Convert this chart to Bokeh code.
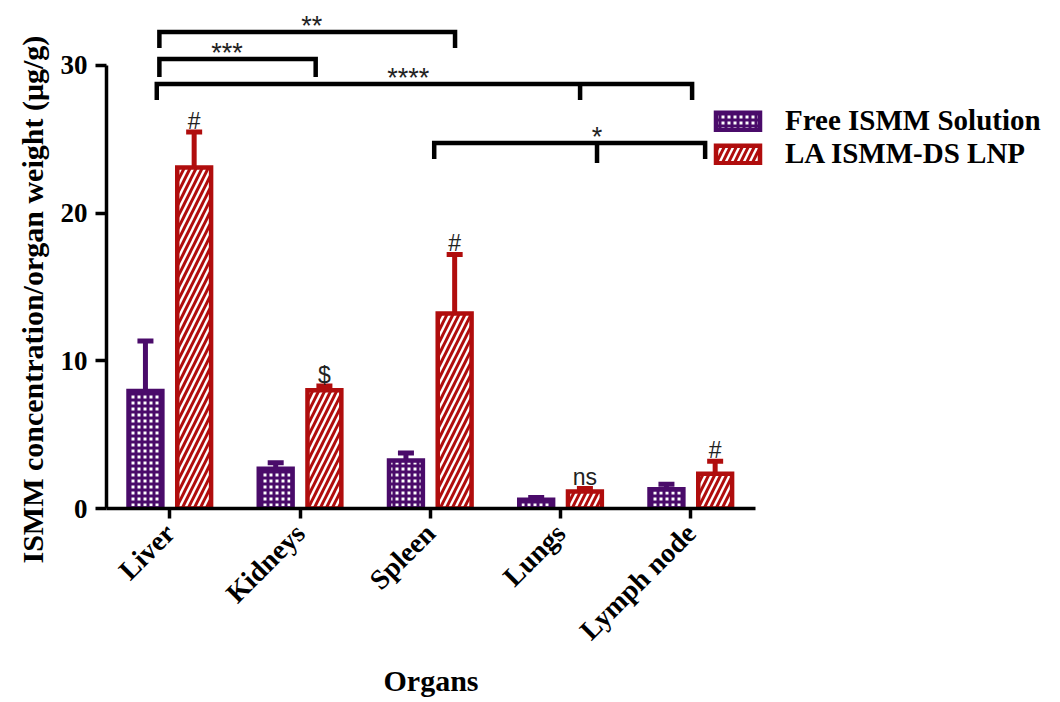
import math
import numpy as np
from bokeh.plotting import figure
from bokeh.models import (ColumnDataSource, Whisker, TeeHead, FixedTicker,
                          Legend, LegendItem, Title)
from bokeh.embed import file_html
from bokeh.resources import INLINE
from bokeh.core.properties import value

# ---------------- data ----------------
organs = ["Liver", "Kidneys", "Spleen", "Lungs", "Lymph node"]
free_mean = [7.95, 2.7, 3.25, 0.6, 1.3]
free_sd = [3.4, 0.4, 0.5, 0.15, 0.35]
lnp_mean = [23.1, 8.0, 13.2, 1.15, 2.35]
lnp_sd = [2.4, 0.3, 4.0, 0.2, 0.85]
lnp_marks = ["#", "$", "#", "ns", "#"]
y_ticks = [0, 10, 20, 30]
series_names = ["Free ISMM Solution", "LA ISMM-DS LNP"]
y_title = "ISMM concentration/organ weight (\u03bcg/g)"
x_title = "Organs"

# significance brackets (positions in category units / y units)
br_left = [-0.08, -0.08, -0.10, 2.03]
br_right = [2.19, 1.12, 4.01, 4.11]
br_mid = [None, None, 3.15, 3.28]
br_top = [32.27, 30.44, 28.75, 24.75]
br_drop = [1.08, 1.22, 1.09, 1.09]
br_mid_drop = [None, None, 1.09, 1.36]
br_text = ["**", "***", "****", "*"]
br_text_x = [1.09, 0.44, 1.83, 3.28]

# ---------------- style ----------------
PURPLE = "#4a0b6a"
RED = "#b00d0d"
SERIF = "Liberation Serif"
SANS = "Liberation Sans"
OFF = 0.187
BW = 0.26
PX_PER_CAT = 130.25
X0 = -0.486
LEFT = 106
FRAME_W = 954

idx = np.arange(len(organs))
src_free = ColumnDataSource(dict(x=idx - OFF, top=free_mean,
                                 lo=free_mean,
                                 up=[m + s for m, s in zip(free_mean, free_sd)]))
src_lnp = ColumnDataSource(dict(x=idx + OFF, top=lnp_mean,
                                lo=lnp_mean,
                                up=[m + s for m, s in zip(lnp_mean, lnp_sd)],
                                mark=lnp_marks,
                                my=[m + s + 0.75 for m, s in zip(lnp_mean, lnp_sd)]))

p = figure(width=LEFT + FRAME_W, height=702,
           x_range=(X0, X0 + FRAME_W / PX_PER_CAT), y_range=(0, 33.86),
           output_backend="svg", toolbar_location=None,
           min_border_left=LEFT, min_border_right=0, min_border_top=8,
           min_border_bottom=194)
p.outline_line_color = None
p.xgrid.visible = False
p.ygrid.visible = False
p.background_fill_color = "white"

r_free = p.vbar(x="x", top="top", bottom=0, width=BW, source=src_free,
                fill_color="white", line_color=PURPLE, line_width=4.5,
                line_join="miter",
                hatch_pattern="cross", hatch_color=PURPLE, hatch_scale=6,
                hatch_weight=3)
r_lnp = p.vbar(x="x", top="top", bottom=0, width=BW, source=src_lnp,
               fill_color="white", line_color=RED, line_width=4.5,
               line_join="miter",
               hatch_pattern="right_diagonal_line", hatch_color=RED,
               hatch_scale=12, hatch_weight=3)

for src, col in ((src_free, PURPLE), (src_lnp, RED)):
    w = Whisker(base="x", lower="lo", upper="up", source=src,
                line_color=col, line_width=5, lower_head=None,
                upper_head=TeeHead(size=16, line_width=5, line_color=col))
    p.add_layout(w)

p.text(x="x", y="my", text="mark", source=src_lnp,
       text_font=value(SANS), text_font_size="23px", text_color="#222222",
       text_align="center", text_baseline="alphabetic")

# brackets
xs, ys = [], []
for l, r, m, t, d, md in zip(br_left, br_right, br_mid, br_top, br_drop, br_mid_drop):
    xs.append([l, l, r, r])
    ys.append([t - d, t, t, t - d])
    if m is not None:
        xs.append([m, m])
        ys.append([t, t - md])
p.multi_line(xs=xs, ys=ys, line_color="black", line_width=4.5,
             line_join="miter", line_cap="butt")
p.text(x=br_text_x, y=[t + 0.41 for t in br_top], text=br_text,
       text_font=value(SANS), text_font_size="27px", text_color="#222222",
       text_align="center", text_baseline="alphabetic")

# axes
xa = p.xaxis[0]
xa.ticker = FixedTicker(ticks=list(idx))
xa.bounds = (X0, 4.5)
xa.major_label_overrides = {int(i): o for i, o in zip(idx, organs)}
xa.major_label_orientation = math.pi / 4
xa.major_label_text_font = SERIF
xa.major_label_text_font_style = "bold"
xa.major_label_text_font_size = "28px"
xa.major_label_text_color = "black"
xa.major_label_standoff = 10
xa.axis_line_width = 3.5
xa.axis_line_color = "black"
xa.major_tick_line_width = 3.5
xa.major_tick_out = 10
xa.major_tick_in = 0
xa.minor_tick_line_color = None

ya = p.yaxis[0]
ya.ticker = FixedTicker(ticks=y_ticks)
ya.bounds = (0, 30)
ya.major_label_text_font = SERIF
ya.major_label_text_font_style = "bold"
ya.major_label_text_font_size = "27px"
ya.major_label_text_color = "black"
ya.major_label_standoff = 8
ya.axis_line_width = 3.5
ya.axis_line_color = "black"
ya.major_tick_line_width = 3.5
ya.major_tick_out = 11
ya.major_tick_in = 0
ya.minor_tick_line_color = None

# axis titles as side-panel titles so they can be shifted
x_title_obj = Title(text=x_title, align="left", offset=277,
                    standoff=4, text_font=SERIF, text_font_style="bold",
                    text_font_size="30px", text_color="black")
p.add_layout(x_title_obj, "below")
y_title_obj = Title(text=y_title, align="left", offset=-55,
                    standoff=14, vertical_align="top",
                    text_font=SERIF, text_font_style="bold",
                    text_font_size="30px", text_color="black")
p.add_layout(y_title_obj, "left")

legend = Legend(items=[LegendItem(label=series_names[0], renderers=[r_free]),
                       LegendItem(label=series_names[1], renderers=[r_lnp])],
                location=(604, 338), orientation="vertical",
                glyph_width=55, glyph_height=22, label_standoff=20,
                spacing=-18, padding=0, margin=0,
                border_line_color=None, background_fill_alpha=0,
                label_text_font=SERIF, label_text_font_style="bold",
                label_text_font_size="29px", label_text_color="black")
p.add_layout(legend, "center")

open("out.html", "w").write(file_html(p, INLINE))
